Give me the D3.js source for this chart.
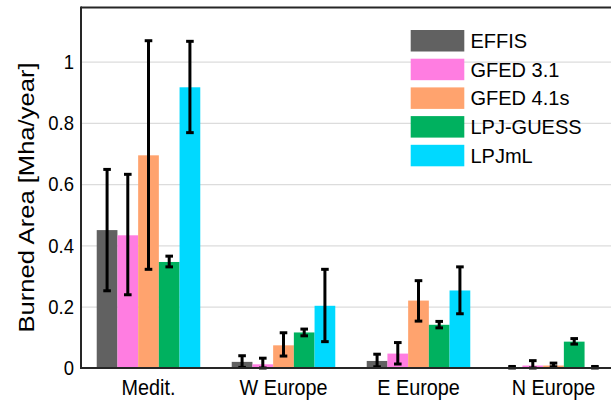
<!DOCTYPE html>
<html><head><meta charset="utf-8">
<script src="https://cdn.jsdelivr.net/npm/d3@7"></script>
<style>
html,body{margin:0;padding:0;background:#fff;}
svg text{font-family:"Liberation Sans",Arial,Helvetica,sans-serif;fill:#000;}
.st{transform-box:fill-box;transform-origin:center;}
</style>
</head><body>
<svg id="c" width="611" height="400"></svg>
<script>
const categories = ["Medit.", "W Europe", "E Europe", "N Europe"];
const seriesNames = ["EFFIS", "GFED 3.1", "GFED 4.1s", "LPJ-GUESS", "LPJmL"];
const seriesColors = ["#616161", "#ff7de1", "#ffa36e", "#00b15f", "#00d9ff"];
const EFFIS     = [0.450, 0.020, 0.023, 0.002];
const GFED31    = [0.433, 0.012, 0.047, 0.008];
const GFED41s   = [0.694, 0.074, 0.220, 0.008];
const LPJGUESS  = [0.346, 0.116, 0.141, 0.086];
const LPJmL     = [0.916, 0.203, 0.253, 0.002];
const EFFIS_lo    = [0.252, 0.002, 0.004, 0.000];
const EFFIS_hi    = [0.648, 0.040, 0.045, 0.005];
const GFED31_lo   = [0.239, 0.000, 0.013, 0.000];
const GFED31_hi   = [0.632, 0.032, 0.083, 0.024];
const GFED41s_lo  = [0.322, 0.039, 0.153, 0.004];
const GFED41s_hi  = [1.068, 0.115, 0.285, 0.016];
const LPJGUESS_lo = [0.330, 0.105, 0.131, 0.078];
const LPJGUESS_hi = [0.365, 0.127, 0.152, 0.096];
const LPJmL_lo    = [0.768, 0.086, 0.177, 0.000];
const LPJmL_hi    = [1.066, 0.322, 0.330, 0.005];
const yTicks = [0, 0.2, 0.4, 0.6, 0.8, 1];
const yTickLabels = ["0", "0.2", "0.4", "0.6", "0.8", "1"];
const yLabel = "Burned Area [Mha/year]";

const values = [EFFIS, GFED31, GFED41s, LPJGUESS, LPJmL];
const lows = [EFFIS_lo, GFED31_lo, GFED41s_lo, LPJGUESS_lo, LPJmL_lo];
const highs = [EFFIS_hi, GFED31_hi, GFED41s_hi, LPJGUESS_hi, LPJmL_hi];

const svg = d3.select("#c");
const L = 81, T = 7, B = 368, R = 621;
const y = d3.scaleLinear().domain([0, 1.178]).range([B, T]);
const x0 = d3.scaleBand().domain(categories).range([L, R]).paddingInner(0.233).paddingOuter(0.1165);
const x1 = d3.scaleBand().domain(seriesNames).range([0, x0.bandwidth()]);

// grid
const grid = svg.append("g").attr("transform", `translate(${L},0)`)
  .call(d3.axisLeft(y).tickValues(yTicks.slice(1)).tickSize(-(R - L)).tickFormat(""));
grid.select(".domain").remove();
grid.selectAll("line").attr("stroke", "#dcdcdc").attr("stroke-width", 1.2);

// bars
const data = [];
categories.forEach((c, i) => seriesNames.forEach((s, j) => data.push({c, s, j, v: values[j][i], lo: lows[j][i], hi: highs[j][i]})));
const g = svg.append("g");
g.selectAll("rect").data(data).join("rect")
  .attr("x", d => x0(d.c) + x1(d.s))
  .attr("width", x1.bandwidth())
  .attr("y", d => y(d.v))
  .attr("height", d => y(0) - y(d.v))
  .attr("fill", d => seriesColors[d.j]);

// error bars
const eb = svg.append("g").attr("stroke", "#000").attr("stroke-width", 3).attr("fill", "none");
data.forEach(d => {
  const cx = x0(d.c) + x1(d.s) + x1.bandwidth() / 2;
  eb.append("line").attr("x1", cx).attr("x2", cx).attr("y1", y(d.lo)).attr("y2", y(d.hi));
  eb.append("line").attr("x1", cx - 3.8).attr("x2", cx + 3.8).attr("y1", y(d.lo)).attr("y2", y(d.lo));
  eb.append("line").attr("x1", cx - 3.8).attr("x2", cx + 3.8).attr("y1", y(d.hi)).attr("y2", y(d.hi));
});

// frame
svg.append("line").attr("x1", L).attr("x2", R).attr("y1", T + 0.5).attr("y2", T + 0.5).attr("stroke", "#262626").attr("stroke-width", 2);
svg.append("line").attr("x1", L).attr("x2", R).attr("y1", B).attr("y2", B).attr("stroke", "#262626").attr("stroke-width", 2);
svg.append("line").attr("x1", L).attr("x2", L).attr("y1", T - 0.5).attr("y2", B + 1).attr("stroke", "#262626").attr("stroke-width", 2);

// y axis labels
const ya = svg.append("g").attr("transform", `translate(${L},0)`)
  .call(d3.axisLeft(y).tickValues(yTicks).tickSize(0).tickPadding(7).tickFormat((d, i) => yTickLabels[i]));
ya.select(".domain").remove();
ya.selectAll("text").attr("font-size", "18.5px").attr("class", "st").style("transform", "scaleY(1.12)");

// x axis labels
const xa = svg.append("g").attr("transform", `translate(0,${B})`)
  .call(d3.axisBottom(x0).tickSize(0).tickPadding(12));
xa.select(".domain").remove();
xa.selectAll("text").attr("font-size", "19.8px").attr("class", "st").style("transform", "scaleY(1.1)");

// y label
svg.append("text")
  .attr("transform", "translate(34,197.5) rotate(-90) scale(1.19,1)")
  .attr("text-anchor", "middle")
  .attr("font-size", "21.5px")
  .text(yLabel);

// legend
const lg = svg.append("g");
seriesNames.forEach((s, j) => {
  const yy = 30 + j * 28.7;
  lg.append("rect").attr("x", 410.7).attr("y", yy).attr("width", 53.6).attr("height", 21.5).attr("fill", seriesColors[j]);
  lg.append("text").attr("x", 470.5).attr("y", yy + 18).attr("font-size", "20px").text(s);
});
</script>
</body></html>
